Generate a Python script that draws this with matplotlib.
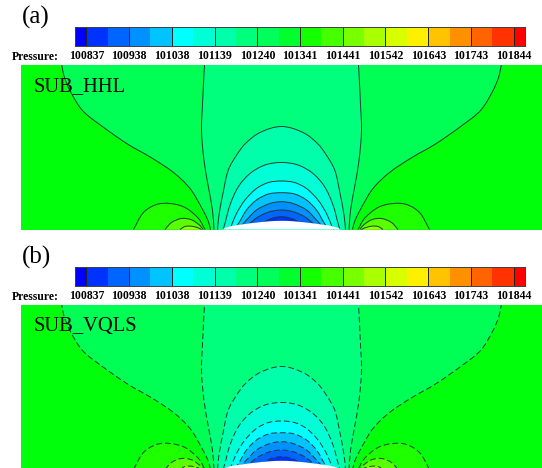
import matplotlib
matplotlib.use("Agg")
import matplotlib.pyplot as plt
from matplotlib.path import Path
from matplotlib.patches import PathPatch
import math as mat

W = 542
H = 468

tick_values = [100837, 100938, 101038, 101139, 101240, 101341, 101441, 101542, 101643, 101743, 101844]
bar_edges = [100811, 100837, 100887, 100938, 100988, 101038, 101089, 101139, 101190, 101240, 101290,
             101341, 101391, 101441, 101492, 101542, 101593, 101643, 101693, 101743, 101794, 101844, 101871]
bar_colors = ["#0000ff", "#0032ff", "#0064ff", "#0091ff", "#00c3ff", "#00ffff", "#00ffd7", "#00ffaa",
              "#00ff7d", "#00ff5a", "#00ff2d", "#14ff00", "#46ff00", "#78ff00", "#aaff00", "#d7ff00",
              "#fff000", "#ffc300", "#ff9100", "#ff6400", "#ff3200", "#ff0000"]

# contours, left half only: offset from hump centre, height above wall
line1_x = [-71, -73.5, -80, -91.5, -108, -130.5, -154, -180.5, -199, -210.5, -217, -219.8, -221]
line1_y = [0, 9, 22, 41, 57, 72, 85.5, 104, 119, 137, 152, 165, 178]
line2_x = [-67.5, -69, -73, -77.5, -80, -79, -77, -76]
line2_y = [0, 19, 42, 69, 99, 125, 165, 178]
arch3_x = [-64, -62.5, -58.2, -53.2, -44.8, -36, -21.5, 0]
arch3_y = [0, 14.5, 37.8, 59.5, 74.5, 86, 97, 103]
arch4_x = [-58.5, -57, -51.5, -43, -31.5, -16.5, 0]
arch4_y = [0, 4.5, 24.5, 43, 56, 64.5, 67]
arch5_x = [-52, -50.5, -45, -36.5, -25, -13, 0]
arch5_y = [0, 3, 16, 29.5, 41, 47, 48.5]
arch6_x = [-47, -43, -35, -25, -13, 0]
arch6_y = [1, 6, 19.5, 29.5, 35.5, 36.8]
arch7_x = [-43, -40, -35, -25, -11.5, 0]
arch7_y = [1, 4, 9.5, 19.5, 26, 27.8]
arch8_x = [-37, -33, -23, -11.5, 0]
arch8_y = [1, 5, 12.8, 17.8, 19.5]
arch9_x = [-29, -25, -20, -10, 0]
arch9_y = [1, 3.5, 6, 11, 12.8]
bump1_x = [-148, -138, -125, -111.5, -96.5, -83, -76.5]
bump1_y = [0, 17, 25, 26, 22, 11, 0]
bump2_x = [-116.5, -110, -100, -90, -81.5, -78.5]
bump2_y = [0, 7, 11, 9.7, 4, 0]
bump3_x = [-101.5, -96.5, -90, -83, -80]
bump3_y = [0, 3, 3.3, 1.5, 0]
hump_x = [-60, -52, -40, -26, -12, 0]
hump_y = [0, 3, 5, 6.8, 8.2, 8.7]

center_lines = [(line1_x, line1_y, "#00ff55"), (line2_x, line2_y, "#00ff7d"), (arch3_x, arch3_y, "#00ffaa"),
                (arch4_x, arch4_y, "#00ffd7"), (arch5_x, arch5_y, "#00ffff"), (arch6_x, arch6_y, "#00c3ff"),
                (arch7_x, arch7_y, "#0091ff"), (arch8_x, arch8_y, "#0064ff"), (arch9_x, arch9_y, "#0032ff")]
side_bumps = [(bump1_x, bump1_y, "#1eff00"), (bump2_x, bump2_y, "#5aff00"), (bump3_x, bump3_y, "#96ff00")]


def tangent(xs, ys, i):
    a = max(i - 1, 0)
    b = min(i + 1, len(xs) - 1)
    dx = xs[b] - xs[a]
    dy = ys[b] - ys[a]
    d = mat.hypot(dx, dy)
    return dx / d, dy / d


def smooth_path(xs, ys, close=False):
    # bezier through the read points, handles a third of each segment
    verts = [(xs[0], ys[0])]
    codes = [Path.MOVETO]
    for i in range(len(xs) - 1):
        seg = mat.hypot(xs[i + 1] - xs[i], ys[i + 1] - ys[i]) / 3
        t0 = tangent(xs, ys, i)
        t1 = tangent(xs, ys, i + 1)
        verts.append((xs[i] + t0[0] * seg, ys[i] + t0[1] * seg))
        verts.append((xs[i + 1] - t1[0] * seg, ys[i + 1] - t1[1] * seg))
        verts.append((xs[i + 1], ys[i + 1]))
        codes += [Path.CURVE4, Path.CURVE4, Path.CURVE4]
    if close:
        verts.append((xs[0], ys[0]))
        codes.append(Path.CLOSEPOLY)
    return Path(verts, codes)


def mirrored(xs, ys):
    if xs[-1] == 0:
        return xs + [-v for v in xs[-2::-1]], ys + ys[-2::-1]
    return xs + [-v for v in xs[::-1]], ys + ys[::-1]


def draw_contour(ax, xs, ys, color, ls):
    ax.add_patch(PathPatch(smooth_path(xs, ys, True), fc=color, ec="none", lw=0))
    ax.add_patch(PathPatch(smooth_path(xs, ys), fc="none", ec="#1c3c30", lw=0.7, ls=ls))


def make_axes(x, y, w, h):
    return plt.gcf().add_axes([x / W, 1 - (y + h) / H, w / W, h / H])


def draw_panel(letter, name, ls, offset):
    plt.figtext(21.5 / W, 1 - (17.5 + offset) / H, letter, fontsize=18, family="Liberation Serif", va="center")

    bar = make_axes(75.4, 27.3 + offset, 449.6, 18.7)
    for i in range(len(bar_colors)):
        bar.axvspan(bar_edges[i], bar_edges[i + 1], color=bar_colors[i], lw=0)
    bar.vlines(tick_values, 0, 1, color="#202020", lw=0.7)
    bar.set_xlim(bar_edges[0], bar_edges[-1])
    bar.set_ylim(0, 1)
    bar.set_yticks([])
    bar.set_xticks(tick_values)
    bar.set_xticklabels(tick_values, fontsize=8.5, fontweight="bold", family="Liberation Serif")
    bar.tick_params(axis="x", length=0, pad=3.2)
    for s in bar.spines.values():
        s.set_linewidth(0.7)
        s.set_color("#404040")
    plt.figtext(12 / W, 1 - (57 + offset) / H, "Pressure:", fontsize=8.5, fontweight="bold",
                family="Liberation Serif", va="center")

    ax = make_axes(21, 64.5 + offset, 521, 165)
    ax.set_xlim(-260.5, 260.5)
    ax.set_ylim(0, 165)
    ax.axis("off")
    ax.add_patch(plt.Rectangle((-260.5, 0), 521, 165, fc="#00ff0a", ec="none"))
    for xs, ys, c in side_bumps:
        draw_contour(ax, xs, ys, c, ls)
        draw_contour(ax, [-v for v in xs], ys, c, ls)
    for xs, ys, c in center_lines:
        hx, hy = mirrored(xs, ys)
        draw_contour(ax, hx, hy, c, ls)
    hx, hy = mirrored(hump_x, hump_y)
    ax.add_patch(PathPatch(smooth_path(hx, hy, True), fc="white", ec="none", lw=0, zorder=5))
    ax.text(-247.8, 143.3, name, fontsize=14.8, family="Liberation Serif", va="center", zorder=6)


plt.figure(figsize=(W / 100, H / 100), dpi=100)
draw_panel("(a)", "SUB_HHL", "-", 0)
draw_panel("(b)", "SUB_VQLS", (0, (6, 3)), 240)
plt.savefig("out.png", dpi=100)
